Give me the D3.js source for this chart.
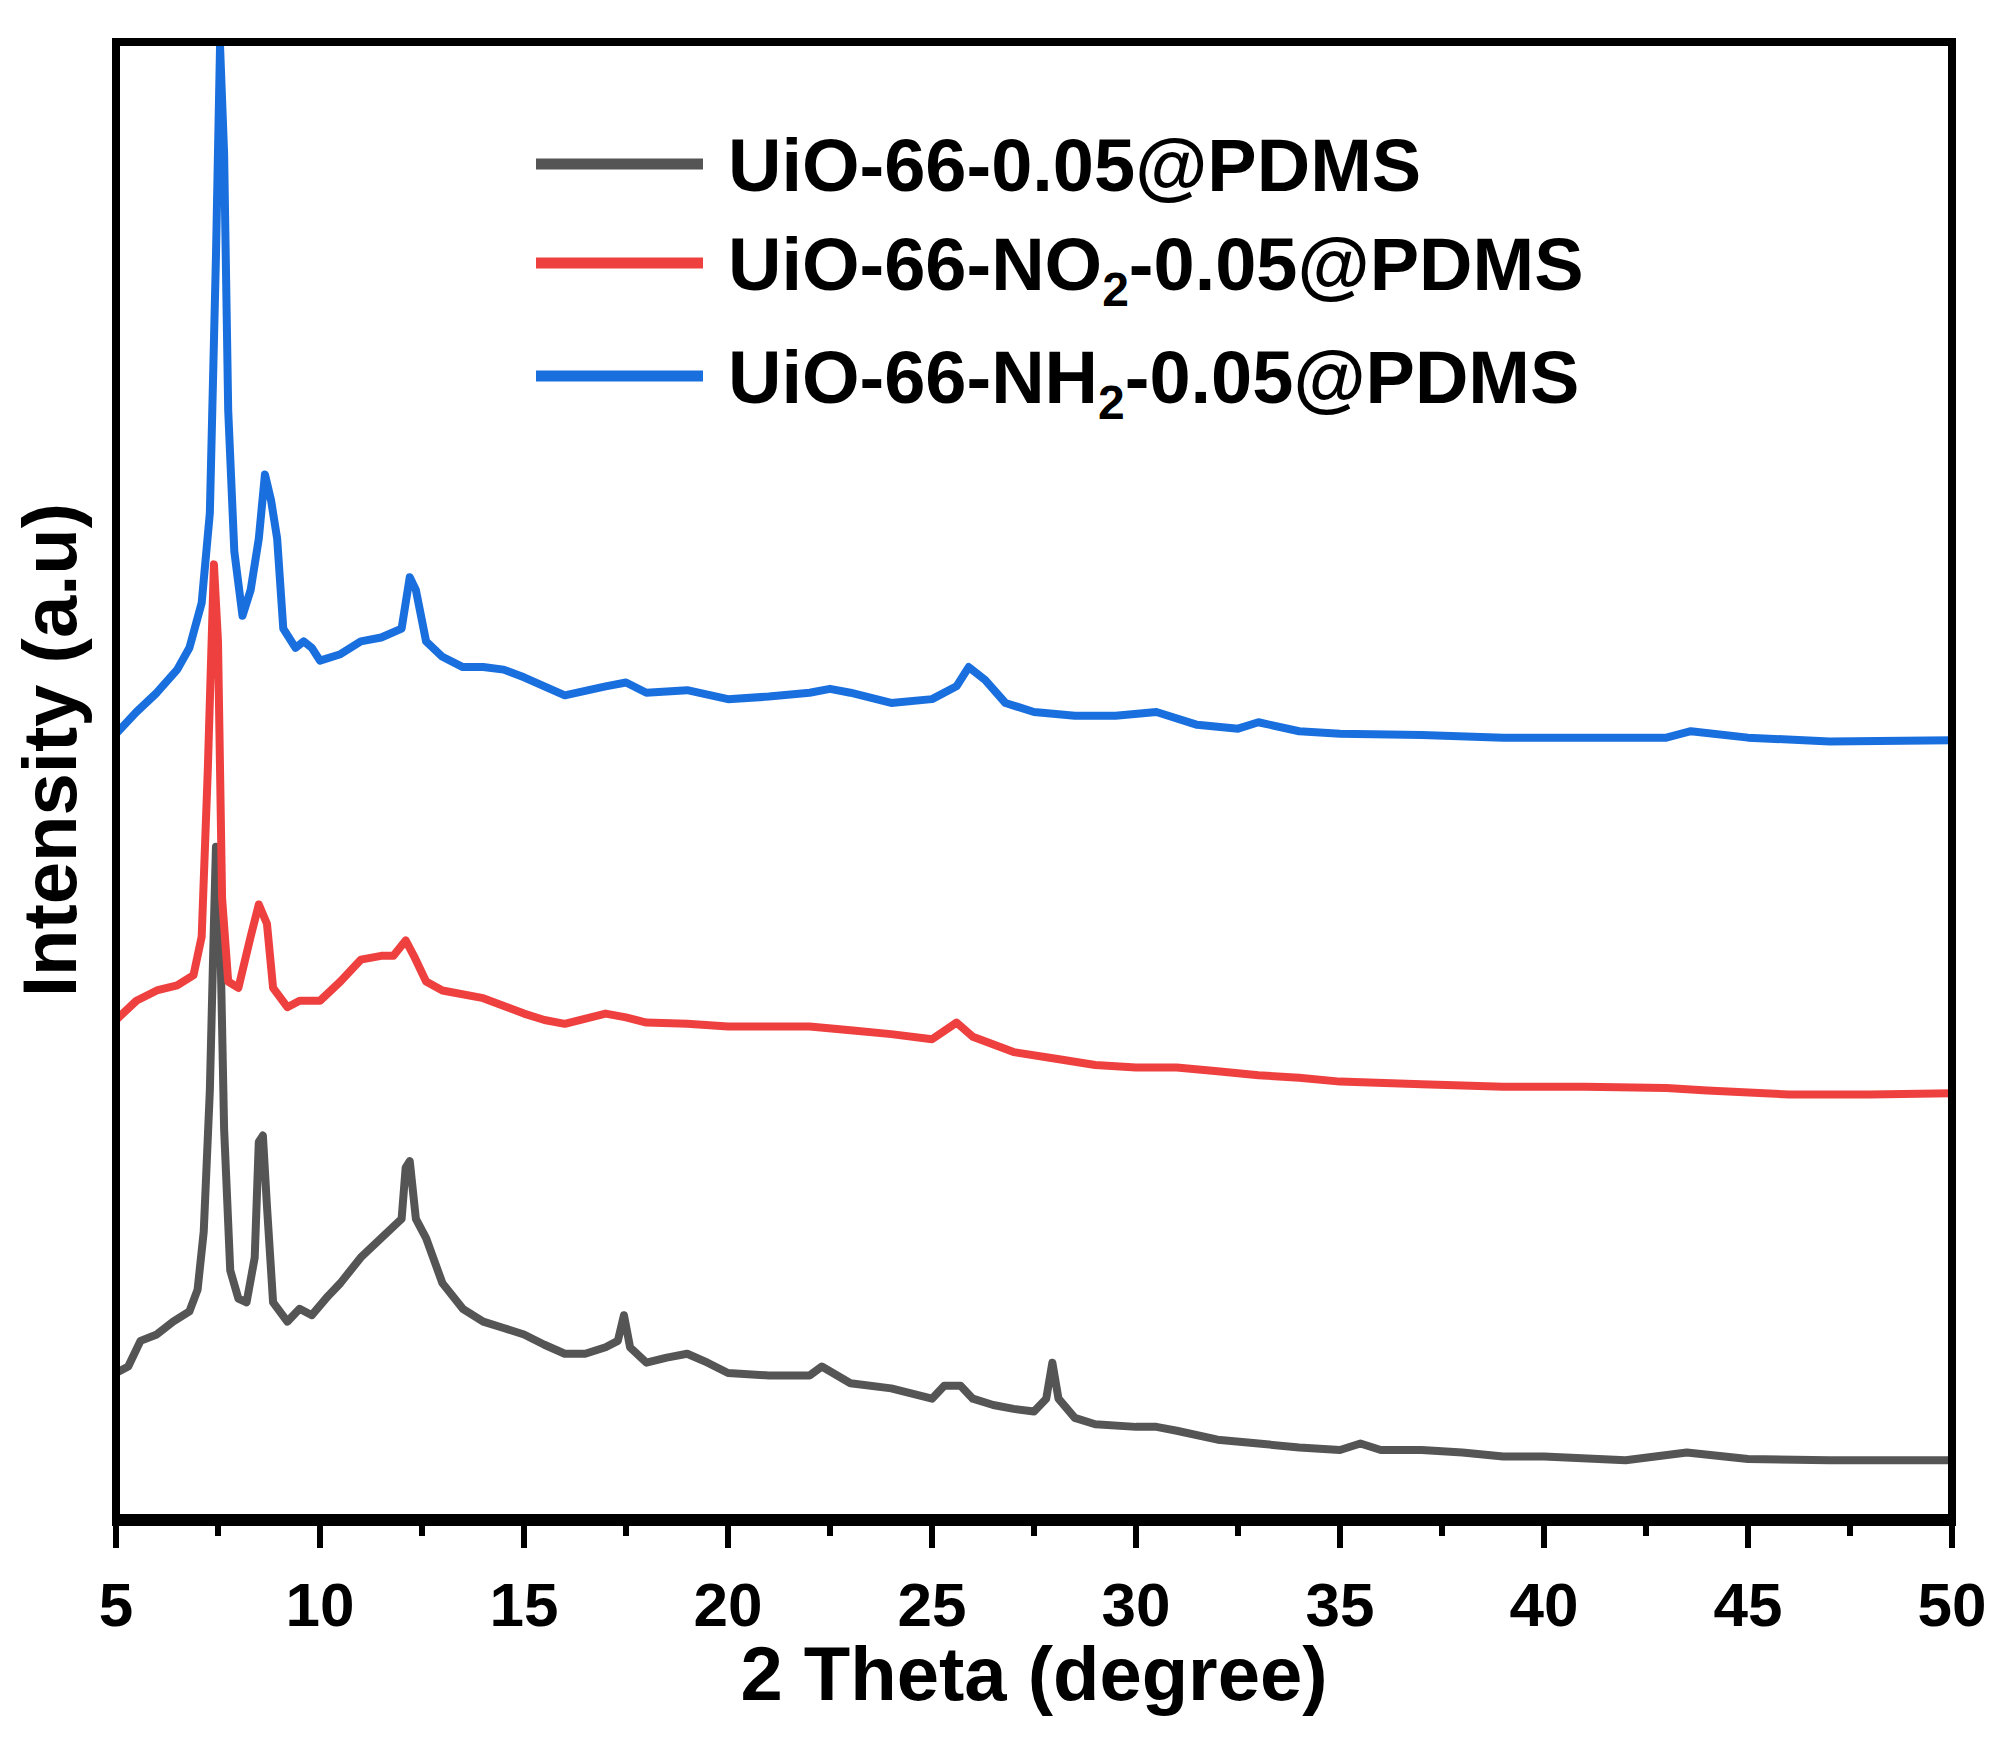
<!DOCTYPE html>
<html><head><meta charset="utf-8">
<script src="https://cdn.jsdelivr.net/npm/d3@7"></script>
<style>body{margin:0;background:#fff}text{font-family:"Liberation Sans",Arial,sans-serif;font-weight:bold}</style>
</head><body><svg id="c" width="2011" height="1748"></svg>
<script>
// values: [2theta, intensity (arb. units, larger = lower on the chart)]
const grayData=[[5,1070],[5.3,1065],[5.6,1045],[6,1040],[6.4,1030],[6.8,1022],[7,1005],[7.15,960],[7.3,850],[7.4,720],[7.45,660],[7.55,720],[7.65,880],[7.8,990],[8,1012],[8.2,1015],[8.4,980],[8.5,890],[8.6,885],[8.7,940],[8.85,1015],[9.2,1030],[9.5,1020],[9.8,1025],[10.2,1010],[10.5,1000],[11,980],[11.5,965],[12,950],[12.1,910],[12.2,905],[12.35,950],[12.6,965],[13,1000],[13.5,1020],[14,1030],[14.5,1035],[15,1040],[15.5,1048],[16,1055],[16.5,1055],[17,1050],[17.3,1045],[17.45,1025],[17.6,1050],[18,1062],[18.5,1058],[19,1055],[19.5,1062],[20,1070],[21,1072],[22,1072],[22.3,1065],[23,1078],[24,1082],[25,1090],[25.3,1080],[25.7,1080],[26,1090],[26.5,1095],[27,1098],[27.5,1100],[27.8,1090],[27.95,1062],[28.1,1090],[28.5,1105],[29,1110],[30,1112],[30.5,1112],[31,1115],[32,1122],[33,1125],[34,1128],[35,1130],[35.5,1125],[36,1130],[37,1130],[38,1132],[39,1135],[40,1135],[42,1138],[43.5,1132],[45,1137],[47,1138],[50,1138]];
const redData=[[5,795],[5.5,780],[6,772],[6.5,768],[6.9,760],[7.1,730],[7.25,600],[7.4,440],[7.5,500],[7.6,700],[7.75,765],[8,770],[8.3,730],[8.5,705],[8.7,720],[8.85,770],[9.2,785],[9.5,780],[10,780],[10.5,765],[11,748],[11.5,745],[11.8,745],[12.1,733],[12.3,745],[12.6,765],[13,772],[14,778],[15,790],[15.5,795],[16,798],[17,790],[17.5,793],[18,797],[19,798],[20,800],[21,800],[22,800],[23,803],[24,806],[25,810],[25.6,797],[26,808],[27,820],[28,825],[29,830],[30,832],[31,832],[32,835],[33,838],[34,840],[35,843],[37,845],[39,847],[41,847],[43,848],[44,850],[46,853],[48,853],[50,852]];
const blueData=[[5,572],[5.5,555],[6,540],[6.5,522],[6.8,505],[7.1,470],[7.3,400],[7.45,200],[7.55,36],[7.65,120],[7.75,320],[7.9,430],[8.1,480],[8.3,460],[8.5,420],[8.65,370],[8.8,390],[8.95,420],[9.1,490],[9.4,505],[9.6,500],[9.8,505],[10,515],[10.5,510],[11,500],[11.5,497],[12,490],[12.2,450],[12.35,460],[12.6,500],[13,512],[13.5,520],[14,520],[14.5,522],[15,528],[15.5,535],[16,542],[17,535],[17.5,532],[18,540],[19,538],[20,545],[21,543],[22,540],[22.5,537],[23,540],[24,548],[25,545],[25.6,535],[25.9,520],[26.3,530],[26.8,548],[27.5,555],[28.5,558],[29.5,558],[30.5,555],[31.5,565],[32.5,568],[33,563],[34,570],[35,572],[37,573],[39,575],[41,575],[43,575],[43.6,570],[45,575],[47,578],[50,577]];
const xTicks=[5,10,15,20,25,30,35,40,45,50];
const seriesNames=[["UiO-66-0.05@PDMS"],["UiO-66-NO","2","-0.05@PDMS"],["UiO-66-NH","2","-0.05@PDMS"]];
const colors=["#555555","#ef4040","#1a6fde"];

const svg=d3.select("#c");
const L=116,R=1952,T=42,B=1518;
const x=d3.scaleLinear().domain([5,50]).range([L,R]);
const y=d3.scaleLinear().domain([33,1183]).range([T,B]);
const line=d3.line().x(d=>x(d[0])).y(d=>y(d[1]));
const clip=svg.append("clipPath").attr("id","cp").append("rect").attr("x",L).attr("y",T).attr("width",R-L).attr("height",B-T);
[grayData,redData,blueData].forEach((d,i)=>{
  svg.append("path").attr("d",line(d)).attr("clip-path","url(#cp)").attr("fill","none").attr("stroke",colors[i]).attr("stroke-width",8).attr("stroke-linejoin","round");
});
svg.append("rect").attr("x",L).attr("y",T).attr("width",R-L).attr("height",B-T).attr("fill","none").attr("stroke","#000").attr("stroke-width",8);
svg.append("line").attr("x1",L-4).attr("x2",R+4).attr("y1",B+2).attr("y2",B+2).attr("stroke","#000").attr("stroke-width",12);
const minor=d3.range(7.5,50,5);
const ax=svg.append("g").attr("transform",`translate(0,${B+8})`);
ax.selectAll(".mj").data(xTicks).join("line").attr("x1",d=>x(d)).attr("x2",d=>x(d)).attr("y1",0).attr("y2",22).attr("stroke","#000").attr("stroke-width",6);
ax.selectAll(".mn").data(minor).join("line").attr("x1",d=>x(d)).attr("x2",d=>x(d)).attr("y1",0).attr("y2",10).attr("stroke","#000").attr("stroke-width",6);
svg.selectAll(".tl").data(xTicks).join("text").attr("x",d=>x(d)).attr("y",1626).attr("text-anchor","middle").attr("font-size",62).text(d=>d);
svg.append("text").attr("x",(L+R)/2).attr("y",1700).attr("text-anchor","middle").attr("font-size",76).text("2 Theta (degree)");
svg.append("text").attr("transform","translate(76,750) rotate(-90)").attr("text-anchor","middle").attr("font-size",76).text("Intensity (a.u)");
const ly=[164,263,376];
seriesNames.forEach((parts,i)=>{
  svg.append("line").attr("x1",536).attr("x2",703).attr("y1",ly[i]).attr("y2",ly[i]).attr("stroke",colors[i]).attr("stroke-width",11);
  const t=svg.append("text").attr("x",728).attr("y",ly[i]+27).attr("font-size",74);
  parts.forEach((p,j)=>{
    const ts=t.append("tspan").text(p);
    if(parts.length>1&&j===1) ts.attr("font-size",48).attr("dy",16);
    if(j===2) ts.attr("dy",-16);
  });
});
</script></body></html>
